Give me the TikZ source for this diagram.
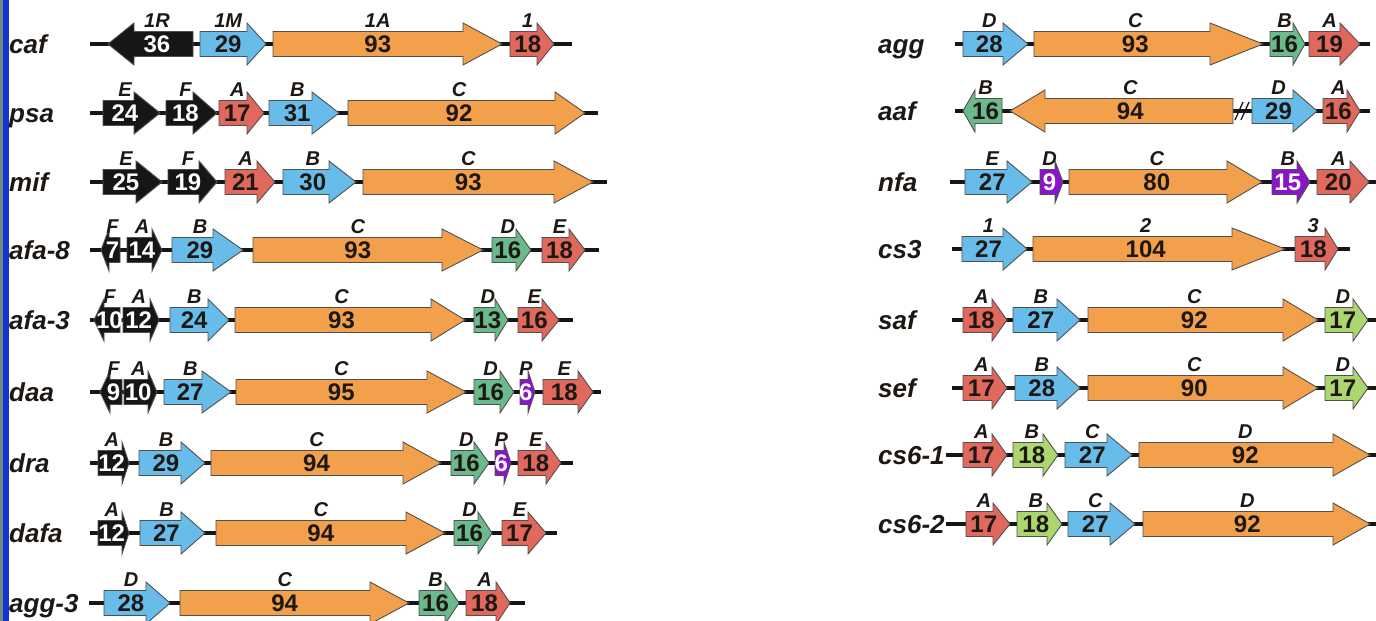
\documentclass[tikz,border=0pt]{standalone}
\usepackage{fontspec}
\setmainfont{Liberation Sans}
\definecolor{gblack}{RGB}{22,22,22}
\definecolor{gblue}{RGB}{104,188,234}
\definecolor{gorange}{RGB}{242,160,76}
\definecolor{gred}{RGB}{224,104,92}
\definecolor{ggreen}{RGB}{106,186,140}
\definecolor{glime}{RGB}{172,214,112}
\definecolor{gpurple}{RGB}{138,20,200}
\definecolor{goutline}{RGB}{80,80,80}
\definecolor{gtext}{RGB}{30,24,20}
\definecolor{barblue}{RGB}{22,52,212}
\definecolor{bargrey}{RGB}{112,140,122}

\tikzset{
  gbox/.style={draw=goutline, line width=0.9pt, line join=miter},
  blk/.style={fill=gblack, text=white},
  blu/.style={fill=gblue},
  org/.style={fill=gorange},
  red/.style={fill=gred},
  grn/.style={fill=ggreen},
  lgr/.style={fill=glime},
  prp/.style={fill=gpurple, text=white},
  gnum/.style={inner sep=0pt, text=gtext, font=\fontsize{24}{24}\selectfont\bfseries},
  glab/.style={inner sep=0pt, text=gtext, font=\fontsize{20}{20}\selectfont\bfseries\itshape},
  rowname/.style={inner sep=0pt, anchor=base west, text=gtext, font=\fontsize{26}{26}\selectfont\bfseries\itshape},
  backbone/.style={draw=gblack, line width=3.5pt},
}

% \gene{name}{y}{tail x}{head base x}{tip x}{colour style}{number}{label}
\newcommand\gene[8]{%
  \pgfmathsetmacro\gxc{#3/2+#4/4+#5/4}%
  \draw[gbox,#6] (#3,#2-12.5) -- (#4,#2-12.5) -- (#4,#2-21) -- (#5,#2)
     -- (#4,#2+21) -- (#4,#2+12.5) -- (#3,#2+12.5) -- cycle;
  \node[gnum,#6,draw=none,fill=none] (#1) at (\gxc,#2) {#7};
  \node[glab] (#1-l) at (\gxc,#2-23) {#8};
}
% \operon{name}{y}{name x}{line start}{line end}
\newcommand\operon[5]{%
  \node[rowname] (#1) at (#3,#2+9) {#1};
  \coordinate (#1-s) at (#4,#2);
  \coordinate (#1-e) at (#5,#2);
  \draw[backbone] (#1-s) -- (#1-e);
}

\begin{document}
\begin{tikzpicture}[x=1pt,y=-1pt]
\fill[white] (0,0) rectangle (1376,621);
\useasboundingbox (0,0) rectangle (1376,621);
\fill[barblue] (0,0) rectangle (8.5,621);
\fill[bargrey] (0,0) rectangle (3,621);

% ---------------- left column ----------------
\operon{caf}{44}{9}{90}{572}
\gene{caf-1R}{44}{193}{134}{108}{blk}{36}{1R}
\gene{caf-1M}{44}{200}{247}{266}{blu}{29}{1M}
\gene{caf-1A}{44}{273}{463}{502}{org}{93}{1A}
\gene{caf-1}{44}{510}{537}{554}{red}{18}{1}

\operon{psa}{113}{9}{90}{598}
\gene{psa-E}{113}{103}{134}{160}{blk}{24}{E}
\gene{psa-F}{113}{166}{193}{217}{blk}{18}{F}
\gene{psa-A}{113}{219}{247}{264}{red}{17}{A}
\gene{psa-B}{113}{269}{312}{339}{blu}{31}{B}
\gene{psa-C}{113}{348}{555}{585}{org}{92}{C}

\operon{mif}{182}{9}{90}{607}
\gene{mif-E}{182}{103}{136}{162}{blk}{25}{E}
\gene{mif-F}{182}{168}{199}{217}{blk}{19}{F}
\gene{mif-A}{182}{225}{257}{275}{red}{21}{A}
\gene{mif-B}{182}{283}{329}{356}{blu}{30}{B}
\gene{mif-C}{182}{363}{554}{593}{org}{93}{C}

\operon{afa-8}{250}{9}{90}{599}
\gene{afa8-F}{250}{120}{109}{101}{blk}{7}{F}
\gene{afa8-A}{250}{127}{152}{162}{blk}{14}{A}
\gene{afa8-B}{250}{172}{213}{243}{blu}{29}{B}
\gene{afa8-C}{250}{253}{442}{483}{org}{93}{C}
\gene{afa8-D}{250}{492}{516}{531}{grn}{16}{D}
\gene{afa8-E}{250}{542}{569}{585}{red}{18}{E}

\operon{afa-3}{320}{9}{90}{573}
\gene{afa3-F}{320}{120}{104}{94}{blk}{10}{F}
\gene{afa3-A}{320}{123}{150}{159}{blk}{12}{A}
\gene{afa3-B}{320}{170}{208}{229}{blu}{24}{B}
\gene{afa3-C}{320}{235}{431}{465}{org}{93}{C}
\gene{afa3-D}{320}{474}{495}{508}{grn}{13}{D}
\gene{afa3-E}{320}{518}{542}{559}{red}{16}{E}

\operon{daa}{392}{9}{90}{601}
\gene{daa-F}{392}{122}{110}{100}{blk}{9}{F}
\gene{daa-A}{392}{124}{148}{157}{blk}{10}{A}
\gene{daa-B}{392}{164}{202}{231}{blu}{27}{B}
\gene{daa-C}{392}{236}{427}{466}{org}{95}{C}
\gene{daa-D}{392}{474}{500}{514}{grn}{16}{D}
\gene{daa-P}{392}{520}{528}{535}{prp}{6}{P}
\gene{daa-E}{392}{543}{578}{593}{red}{18}{E}

\operon{dra}{463}{9}{90}{573}
\gene{dra-A}{463}{98}{122}{129}{blk}{12}{A}
\gene{dra-B}{463}{139}{181}{205}{blu}{29}{B}
\gene{dra-C}{463}{211}{403}{441}{org}{94}{C}
\gene{dra-D}{463}{451}{474}{489}{grn}{16}{D}
\gene{dra-P}{463}{495}{504}{511}{prp}{6}{P}
\gene{dra-E}{463}{518}{546}{561}{red}{18}{E}

\operon{dafa}{533}{9}{90}{557}
\gene{dafa-A}{533}{98}{122}{129}{blk}{12}{A}
\gene{dafa-B}{533}{140}{181}{205}{blu}{27}{B}
\gene{dafa-C}{533}{216}{406}{445}{org}{94}{C}
\gene{dafa-D}{533}{454}{478}{492}{grn}{16}{D}
\gene{dafa-E}{533}{502}{528}{546}{red}{17}{E}

\operon{agg-3}{603}{9}{89}{525}
\gene{agg3-D}{603}{104}{146}{170}{blu}{28}{D}
\gene{agg3-C}{603}{180}{370}{409}{org}{94}{C}
\gene{agg3-B}{603}{419}{445}{459}{grn}{16}{B}
\gene{agg3-A}{603}{466}{496}{510}{red}{18}{A}

% ---------------- right column ----------------
\operon{agg}{44}{878}{955}{1370}
\gene{agg-D}{44}{963}{1003}{1028}{blu}{28}{D}
\gene{agg-C}{44}{1034}{1210}{1263}{org}{93}{C}
\gene{agg-B}{44}{1270}{1293}{1305}{grn}{16}{B}
\gene{agg-A}{44}{1309}{1340}{1360}{red}{19}{A}

\operon{aaf}{111}{878}{955}{1370}
\gene{aaf-B}{111}{1002}{975}{963}{grn}{16}{B}
\gene{aaf-C}{111}{1233}{1045}{1010}{org}{94}{C}
\gene{aaf-D}{111}{1252}{1293}{1317}{blu}{29}{D}
\gene{aaf-A}{111}{1323}{1347}{1360}{red}{16}{A}
\coordinate (aaf-gap) at (1242,111);
\draw[gblack, line width=1.3pt] ([shift={(-7,9)}]aaf-gap) -- ([shift={(1,-9)}]aaf-gap)
                                ([shift={(-1,9)}]aaf-gap) -- ([shift={(7,-9)}]aaf-gap);

\operon{nfa}{182}{878}{950}{1376}
\gene{nfa-E}{182}{965}{1007}{1032}{blu}{27}{E}
\gene{nfa-D}{182}{1040}{1055}{1063}{prp}{9}{D}
\gene{nfa-C}{182}{1069}{1227}{1262}{org}{80}{C}
\gene{nfa-B}{182}{1272}{1297}{1310}{prp}{15}{B}
\gene{nfa-A}{182}{1317}{1350}{1369}{red}{20}{A}

\operon{cs3}{249}{878}{952}{1350}
\gene{cs3-1}{249}{962}{1003}{1027}{blu}{27}{1}
\gene{cs3-2}{249}{1033}{1232}{1285}{org}{104}{2}
\gene{cs3-3}{249}{1295}{1325}{1338}{red}{18}{3}

\operon{saf}{320}{878}{952}{1376}
\gene{saf-A}{320}{963}{992}{1007}{red}{18}{A}
\gene{saf-B}{320}{1013}{1057}{1080}{blu}{27}{B}
\gene{saf-C}{320}{1088}{1283}{1318}{org}{92}{C}
\gene{saf-D}{320}{1325}{1353}{1368}{lgr}{17}{D}

\operon{sef}{388}{878}{952}{1376}
\gene{sef-A}{388}{963}{992}{1007}{red}{17}{A}
\gene{sef-B}{388}{1015}{1057}{1080}{blu}{28}{B}
\gene{sef-C}{388}{1088}{1283}{1318}{org}{90}{C}
\gene{sef-D}{388}{1325}{1353}{1368}{lgr}{17}{D}

\operon{cs6-1}{455}{878}{946}{1376}
\gene{cs61-A}{455}{963}{992}{1007}{red}{17}{A}
\gene{cs61-B}{455}{1013}{1043}{1058}{lgr}{18}{B}
\gene{cs61-C}{455}{1065}{1107}{1132}{blu}{27}{C}
\gene{cs61-D}{455}{1139}{1333}{1370}{org}{92}{D}

\operon{cs6-2}{524}{878}{946}{1376}
\gene{cs62-A}{524}{966}{993}{1010}{red}{17}{A}
\gene{cs62-B}{524}{1017}{1047}{1062}{lgr}{18}{B}
\gene{cs62-C}{524}{1068}{1110}{1135}{blu}{27}{C}
\gene{cs62-D}{524}{1143}{1333}{1370}{org}{92}{D}
\end{tikzpicture}
\end{document}
